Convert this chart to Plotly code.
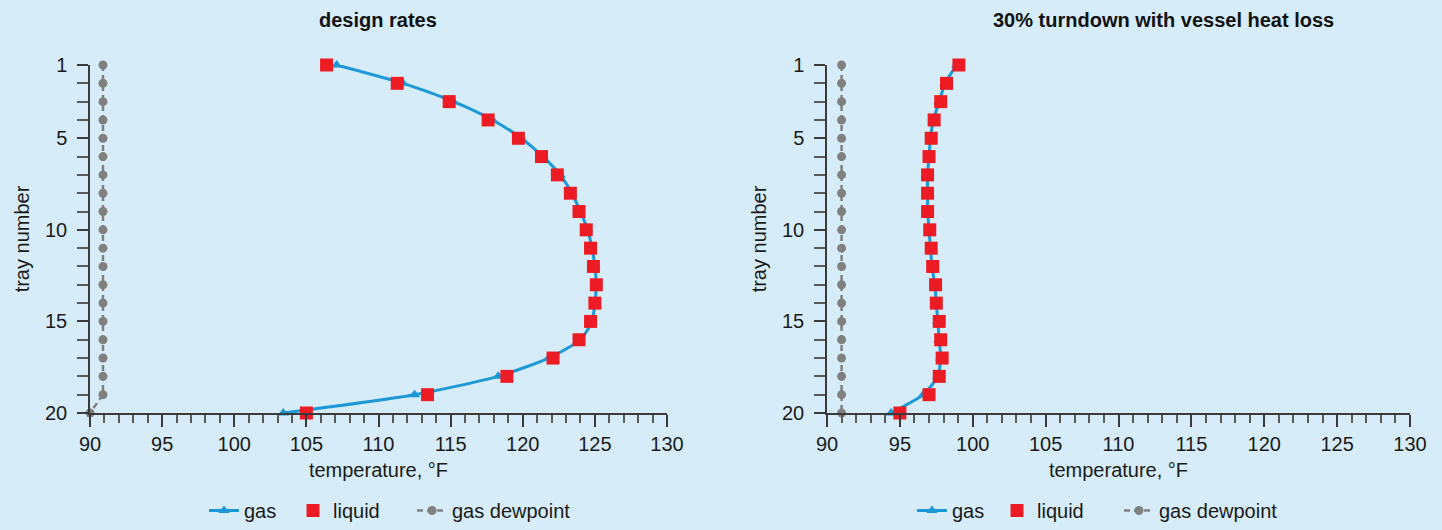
import plotly.graph_objects as go

trays = list(range(1, 21))

# design rates
gas_design = [107.1, 111.7, 115.2, 117.9, 119.9, 121.4, 122.6, 123.4, 124.0, 124.5,
              124.8, 125.0, 125.1, 125.0, 124.8, 124.0, 121.8, 118.3, 112.5, 103.4]
liquid_design = [106.4, 111.3, 114.9, 117.6, 119.7, 121.3, 122.4, 123.3, 123.9, 124.4,
                 124.7, 124.9, 125.1, 125.0, 124.7, 123.9, 122.1, 118.9, 113.4, 105.0]
dew_design = [90.9] * 19 + [90.0]

# 30% turndown with vessel heat loss
gas_turn = [98.9, 98.1, 97.7, 97.3, 97.1, 97.0, 96.9, 96.9, 96.9, 97.0,
            97.1, 97.2, 97.4, 97.5, 97.6, 97.7, 97.8, 97.6, 96.6, 94.4]
liquid_turn = [99.05, 98.2, 97.8, 97.35, 97.15, 97.0, 96.9, 96.9, 96.9, 97.05,
               97.15, 97.25, 97.45, 97.5, 97.7, 97.8, 97.9, 97.7, 97.0, 95.0]
dew_turn = [91.0] * 20

titles = ["design rates", "30% turndown with vessel heat loss"]
x_ticks = [90, 95, 100, 105, 110, 115, 120, 125, 130]
y_ticks = [1, 5, 10, 15, 20]

BG = "#d6edf9"
BLUE = "#1b98d5"
RED = "#ed1c24"
GRAY = "#808080"
AXIS = "#3a3a3a"
MINOR = "#5a5a5a"
TXT = "#1a1a1a"
FONT = "Liberation Sans, Arial, sans-serif"

fig = go.Figure()

panels = [
    (gas_design, liquid_design, dew_design, "x", "y", "legend", 44, 74),
    (gas_turn, liquid_turn, dew_turn, "x2", "y2", "legend2", 40, 77),
]
for gas, liq, dew, xa, ya, lg, w1, w2 in panels:
    fig.add_trace(go.Scatter(
        x=gas, y=trays, name="gas", mode="lines+markers", xaxis=xa, yaxis=ya,
        line=dict(color=BLUE, width=3, shape="spline", smoothing=0.6),
        marker=dict(symbol="triangle-up", size=10, color=BLUE),
        cliponaxis=False, legend=lg, legendwidth=w1))
    fig.add_trace(go.Scatter(
        x=liq, y=trays, name="liquid", mode="markers", xaxis=xa, yaxis=ya,
        marker=dict(symbol="square", size=13, color=RED),
        cliponaxis=False, legend=lg, legendwidth=w2))
    fig.add_trace(go.Scatter(
        x=dew, y=trays, name="gas dewpoint", mode="lines+markers", xaxis=xa, yaxis=ya,
        line=dict(color=GRAY, width=2.5, dash="6px,4px"),
        marker=dict(symbol="circle", size=9, color=GRAY),
        cliponaxis=False, legend=lg))

W, H = 1442, 530
def px_x(p):
    return p / W
def px_y(p):
    return 1 - p / H

xdomains = [[px_x(90), px_x(667)], [px_x(827), px_x(1410)]]
ydomain = [px_y(413), px_y(65)]
title_x = [px_x(378), px_x(1163)]

common_x = dict(
    range=[90, 130], tickvals=x_ticks, ticks="outside", ticklen=12, tickwidth=1.5,
    tickcolor=AXIS, showline=True, linecolor=AXIS, linewidth=1.5, showgrid=False,
    zeroline=False, automargin=False, tickfont=dict(family=FONT, size=20, color=TXT),
    minor=dict(tickvals=list(range(90, 131)), ticks="outside", ticklen=8,
               tickwidth=1.5, tickcolor=MINOR, showgrid=False),
    title=dict(text="temperature, °F", font=dict(family=FONT, size=20, color=TXT),
               standoff=9),
)
common_y = dict(
    range=[20, 1], tickvals=y_ticks, ticks="outside", ticklen=11, tickwidth=1.5,
    tickcolor=AXIS, showline=True, linecolor=AXIS, linewidth=1.5, showgrid=False,
    zeroline=False, automargin=False, tickfont=dict(family=FONT, size=20, color=TXT),
    ticklabelstandoff=6,
    minor=dict(tickvals=trays, ticks="outside", ticklen=11, tickwidth=1.5,
               tickcolor=MINOR, showgrid=False),
    title=dict(text="tray number", font=dict(family=FONT, size=20, color=TXT),
               standoff=10),
)

legend_common = dict(orientation="h", xanchor="left", yanchor="bottom", y=0,
                     bgcolor="rgba(0,0,0,0)", font=dict(family=FONT, size=20, color=TXT),
                     itemwidth=30, traceorder="normal")

fig.update_layout(
    width=W, height=H,
    margin=dict(l=0, r=0, t=0, b=0),
    paper_bgcolor=BG, plot_bgcolor=BG,
    font=dict(family=FONT, size=20, color=TXT),
    xaxis=dict(domain=xdomains[0], anchor="y", **common_x),
    yaxis=dict(domain=ydomain, anchor="x", **common_y),
    xaxis2=dict(domain=xdomains[1], anchor="y2", **common_x),
    yaxis2=dict(domain=ydomain, anchor="x2", **common_y),
    legend=dict(x=px_x(204), **legend_common),
    legend2=dict(x=px_x(912), **legend_common),
    annotations=[
        dict(text="<b>%s</b>" % titles[0], x=title_x[0], y=px_y(20),
             xref="paper", yref="paper", showarrow=False, xanchor="center", yanchor="middle",
             font=dict(family=FONT, size=20, color="#111111")),
        dict(text="<b>%s</b>" % titles[1], x=title_x[1], y=px_y(20),
             xref="paper", yref="paper", showarrow=False, xanchor="center", yanchor="middle",
             font=dict(family=FONT, size=20, color="#111111")),
    ],
)

fig.write_html("out.html", config={"displayModeBar": False},
               post_script="document.body.style.margin='0';"
                           "document.body.style.background='%s';" % BG)
